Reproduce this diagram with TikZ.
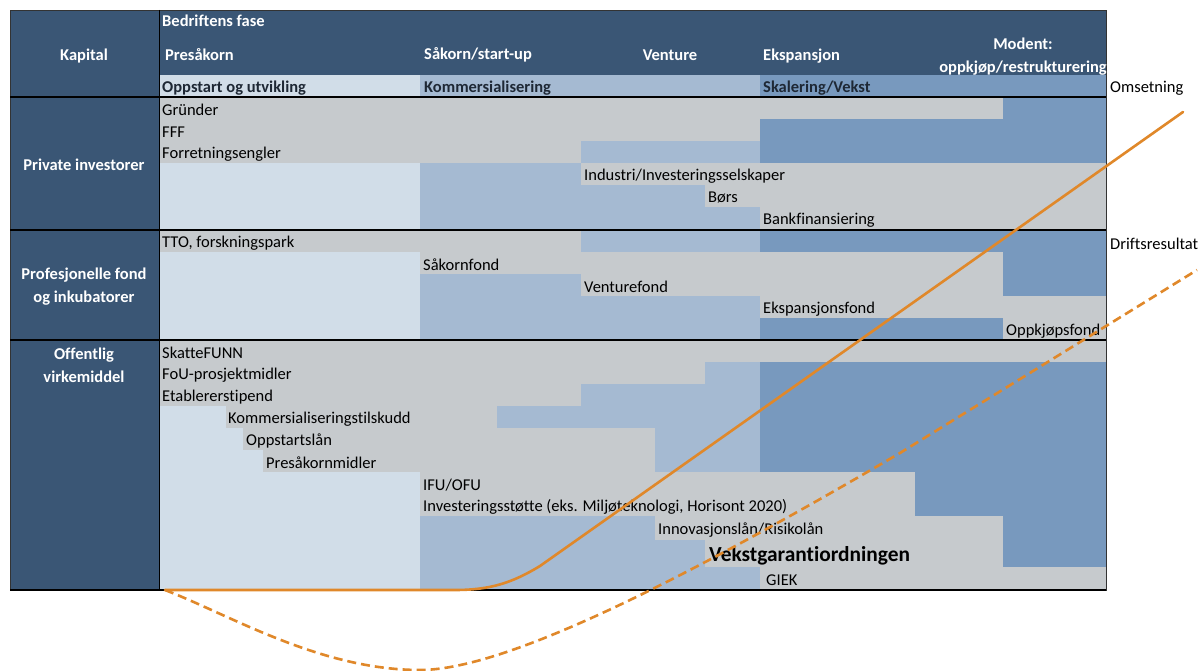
\documentclass[tikz,border=0pt]{standalone}
\usepackage{fontspec}
\setmainfont[Ligatures=NoCommon]{Carlito}
\definecolor{hdr}{HTML}{3A5675}
\definecolor{ltb}{HTML}{D1DDE8}
\definecolor{mdb}{HTML}{A5BAD2}
\definecolor{dkb}{HTML}{7899BE}
\definecolor{gry}{HTML}{C6CACD}
\definecolor{org}{HTML}{E0882A}
\definecolor{subtxt}{HTML}{1E2835}
\tikzset{
  lt/.style={fill=ltb},
  md/.style={fill=mdb},
  dk/.style={fill=dkb},
  gr/.style={fill=gry},
  lbl/.style={anchor=west,inner sep=0pt,font=\fontsize{16.5}{18}\selectfont,text=black},
  hd/.style={inner sep=0pt,font=\fontsize{16.5}{23}\selectfont\bfseries,text=white,align=center},
  sub/.style={anchor=west,inner sep=0pt,font=\fontsize{16.5}{18}\selectfont\bfseries,text=subtxt},
  sep/.style={draw=black,line width=1.3pt},
  curve/.style={draw=org,line width=2.6pt,line cap=round},
  dcurve/.style={draw=org,line width=2.6pt,dash pattern=on 9pt off 5pt}
}
\begin{document}
\begin{tikzpicture}[x=1pt,y=-1pt]
\useasboundingbox[fill=white] (0,0) rectangle (1200,671);
% header and Kapital column
\fill[hdr] (10,10) rectangle (1106,75);
\fill[hdr] (10,10) rectangle (159,590);
\fill[lt] (159,75) rectangle (420,97);
\fill[md] (420,75) rectangle (760,97);
\fill[dk] (760,75) rectangle (1106,97);
% Private investorer
\fill[gr] (159,97) rectangle (1003,119); \fill[dk] (1003,97) rectangle (1106,119);
\fill[gr] (159,119) rectangle (760,141); \fill[dk] (760,119) rectangle (1106,141);
\fill[gr] (159,141) rectangle (581,163); \fill[md] (581,141) rectangle (760,163); \fill[dk] (760,141) rectangle (1106,163);
\fill[lt] (159,163) rectangle (420,185); \fill[md] (420,163) rectangle (581,185); \fill[gr] (581,163) rectangle (1106,185);
\fill[lt] (159,185) rectangle (420,207); \fill[md] (420,185) rectangle (705,207); \fill[gr] (705,185) rectangle (1106,207);
\fill[lt] (159,207) rectangle (420,230); \fill[md] (420,207) rectangle (760,230); \fill[gr] (760,207) rectangle (1106,230);
% Profesjonelle fond
\fill[gr] (159,230) rectangle (581,252); \fill[md] (581,230) rectangle (760,252); \fill[dk] (760,230) rectangle (1106,252);
\fill[lt] (159,252) rectangle (420,274); \fill[gr] (420,252) rectangle (1003,274); \fill[dk] (1003,252) rectangle (1106,274);
\fill[lt] (159,274) rectangle (420,296); \fill[md] (420,274) rectangle (581,296); \fill[gr] (581,274) rectangle (1003,296); \fill[dk] (1003,274) rectangle (1106,296);
\fill[lt] (159,296) rectangle (420,318); \fill[md] (420,296) rectangle (760,318); \fill[gr] (760,296) rectangle (1106,318);
\fill[lt] (159,318) rectangle (420,340); \fill[md] (420,318) rectangle (760,340); \fill[dk] (760,318) rectangle (1003,340); \fill[gr] (1003,318) rectangle (1106,340);
% Offentlig virkemiddel
\fill[gr] (159,340) rectangle (1106,362);
\fill[gr] (159,362) rectangle (705,384); \fill[md] (705,362) rectangle (760,384); \fill[dk] (760,362) rectangle (1106,384);
\fill[gr] (159,384) rectangle (581,406); \fill[md] (581,384) rectangle (760,406); \fill[dk] (760,384) rectangle (1106,406);
\fill[lt] (159,406) rectangle (226,428); \fill[gr] (226,406) rectangle (497,428); \fill[md] (497,406) rectangle (760,428); \fill[dk] (760,406) rectangle (1106,428);
\fill[lt] (159,428) rectangle (243,450); \fill[gr] (243,428) rectangle (655,450); \fill[md] (655,428) rectangle (760,450); \fill[dk] (760,428) rectangle (1106,450);
\fill[lt] (159,450) rectangle (263,472); \fill[gr] (263,450) rectangle (655,472); \fill[md] (655,450) rectangle (760,472); \fill[dk] (760,450) rectangle (1106,472);
\fill[lt] (159,472) rectangle (420,494); \fill[gr] (420,472) rectangle (915,494); \fill[dk] (915,472) rectangle (1106,494);
\fill[lt] (159,494) rectangle (420,516); \fill[gr] (420,494) rectangle (915,516); \fill[dk] (915,494) rectangle (1106,516);
\fill[lt] (159,516) rectangle (420,540); \fill[md] (420,516) rectangle (655,540); \fill[gr] (655,516) rectangle (1003,540); \fill[dk] (1003,516) rectangle (1106,540);
\fill[lt] (159,540) rectangle (420,567); \fill[md] (420,540) rectangle (705,567); \fill[gr] (705,540) rectangle (1003,567); \fill[dk] (1003,540) rectangle (1106,567);
\fill[lt] (159,567) rectangle (420,590); \fill[md] (420,567) rectangle (760,590); \fill[gr] (760,567) rectangle (1106,590);
% lines
\draw[draw=black!80,line width=0.8pt] (10,10) rectangle (1106,590);
\draw[draw=black,line width=1pt] (159,10) -- (159,590);
\draw[sep] (10,97) -- (1106,97);
\draw[sep] (10,230) -- (1106,230);
\draw[sep] (10,340) -- (1106,340);
\draw[sep] (10,590) -- (1106,590);
% header texts
\node[hd] (kapital) at (84,56) {Kapital};
\node[hd,anchor=west] (fase) at (162,21) {Bedriftens fase};
\node[hd,anchor=west] (presakorn) at (165,55) {Presåkorn};
\node[hd,anchor=west] (sakorn) at (424,55) {Såkorn/start-up};
\node[hd] (venture) at (670,55) {Venture};
\node[hd,anchor=west] (ekspansjon) at (763,56) {Ekspansjon};
\node[hd] (modent) at (1023,57) {Modent:\\oppkjøp/restrukturering};
\node[sub] (oppstart) at (162,88) {Oppstart og utvikling};
\node[sub] (kommers) at (424,88) {Kommersialisering};
\node[sub] (skalering) at (763,88) {Skalering/Vekst};
\node[hd] (private) at (84,165) {Private investorer};
\node[hd] (prof) at (84,287) {Profesjonelle fond\\og inkubatorer};
\node[hd] (offentlig) at (84,365) {Offentlig\\virkemiddel};
% row labels
\node[lbl] (grunder) at (162,110) {Gründer};
\node[lbl] (fff) at (162,132) {FFF};
\node[lbl] (engler) at (162,154) {Forretningsengler};
\node[lbl] (industri) at (584,176) {Industri/Investeringsselskaper};
\node[lbl] (bors) at (708,198) {Børs};
\node[lbl] (bank) at (763,220) {Bankfinansiering};
\node[lbl] (tto) at (162,243) {TTO, forskningspark};
\node[lbl] (sakornfond) at (423,265) {Såkornfond};
\node[lbl] (venturefond) at (584,287) {Venturefond};
\node[lbl] (ekspfond) at (763,309) {Ekspansjonsfond};
\node[lbl] (oppkjop) at (1006,331) {Oppkjøpsfond};
\node[lbl] (skatte) at (162,353) {SkatteFUNN};
\node[lbl] (fou) at (162,375) {FoU-prosjektmidler};
\node[lbl] (etabl) at (162,397) {Etablererstipend};
\node[lbl] (kommtilsk) at (228,419) {Kommersialiseringstilskudd};
\node[lbl] (oppstartslan) at (246,441) {Oppstartslån};
\node[lbl] (presmidler) at (266,463) {Presåkornmidler};
\node[lbl] (ifu) at (423,485) {IFU/OFU};
\node[lbl] (invest) at (423,507) {Investeringsstøtte (eks. Miljøteknologi, Horisont 2020)};
\node[lbl] (innov) at (658,530) {Innovasjonslån/Risikolån};
\node[lbl,font=\fontsize{21.4}{24}\selectfont\bfseries] (vekst) at (709,556) {Vekstgarantiordningen};
\node[lbl] (giek) at (766,580) {GIEK};
% right labels
\node[lbl] (omsetning) at (1110,88) {Omsetning};
\node[lbl] (drift) at (1110,244) {Driftsresultat};
% curves
\coordinate (s0) at (165,590);
\coordinate (s1) at (455,590);
\coordinate (s2) at (540,566);
\coordinate (s3) at (1183,112);
\coordinate (d1) at (420,670);
\coordinate (d2) at (900,453);
\coordinate (d3) at (1197,270);
\draw[curve] (s0) -- (s1) .. controls (490,590) and (512,583) .. (s2) -- (s3);
\draw[dcurve] (s0) .. controls (230,615) and (320,670) .. (d1) .. controls (510,670) and (700,570) .. (d2) -- (d3);
\end{tikzpicture}
\end{document}
